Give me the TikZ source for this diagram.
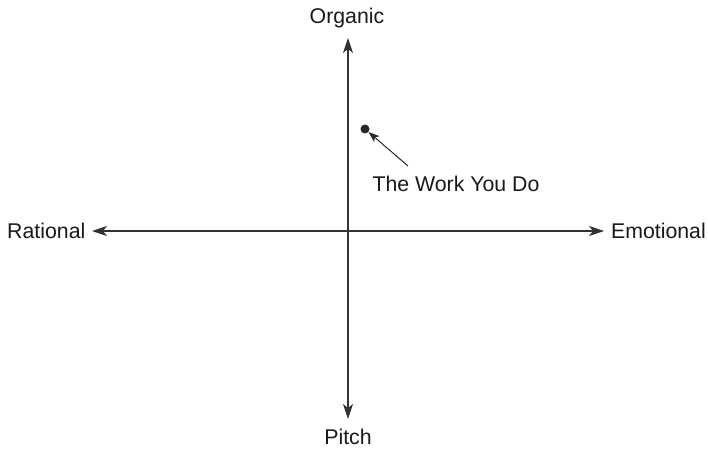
\documentclass[tikz,border=0pt]{standalone}
\usepackage{fontspec}
\setmainfont{Liberation Sans}
\usetikzlibrary{arrows.meta}
\begin{document}
\begin{tikzpicture}[x=1pt,y=-1pt,
  lbl/.style={font=\fontsize{21.3}{25}\selectfont, text=black!90, inner sep=0pt},
  axis/.style={line width=1.3pt, draw=black!80, {Stealth[length=15pt,width=10pt,inset=4pt]}-{Stealth[length=15pt,width=10pt,inset=4pt]}},
  pointer/.style={line width=1pt, draw=black!85, -{Stealth[length=11pt,width=8pt,inset=3pt]}}]
\useasboundingbox (0,0) rectangle (708,449);
\coordinate (top) at (348,38);
\coordinate (bot) at (348,419);
\coordinate (left) at (92,231);
\coordinate (right) at (604,231);
\node[lbl] (organic) at (347,18) {Organic};
\node[lbl] (pitch) at (348,437) {Pitch};
\node[lbl, anchor=west] (rational) at (7,231) {Rational};
\node[lbl, anchor=east] (emotional) at (706,231) {Emotional};
\node[lbl] (work) at (456,184) {The Work You Do};
\node[circle, fill=black!85, minimum size=9pt, inner sep=0pt] (dot) at (365,129) {};
\draw[axis] (top) -- (bot);
\draw[axis] (left) -- (right);
\coordinate (tail) at (408,166);
\draw[pointer] (tail) -- (dot);
\end{tikzpicture}
\end{document}
